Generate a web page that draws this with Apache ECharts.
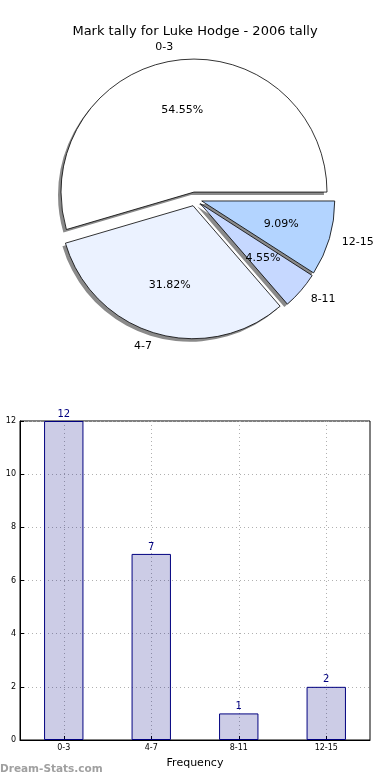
<!DOCTYPE html>
<html>
<head>
<meta charset="utf-8">
<script src="https://cdn.jsdelivr.net/npm/echarts@6/dist/echarts.min.js"></script>
<style>
html,body{margin:0;padding:0;background:#fff;}
#c{width:390px;height:780px;}
</style>
</head>
<body>
<div id="c"></div>
<script>
const titleText = 'Mark tally for Luke Hodge - 2006 tally';
const categories = ['0-3', '4-7', '8-11', '12-15'];
const tallies = [12, 7, 1, 2];
const pieColors = ['#ffffff', '#ebf2ff', '#c6d8ff', '#b3d4ff'];
const yAxisName = 'Distinct Tallies';
const xAxisName = 'Frequency';
const watermark = 'Dream-Stats.com';

const total = tallies.reduce((a, b) => a + b, 0);
const FONT = 'DejaVu Sans';
const R = 133;
const CX = 195, CY = 199;
const OFF = 7;

const chart = echarts.init(document.getElementById('c'), null, {renderer: 'canvas'});

const pieData = categories.map((c, i) => ({
  name: c, value: tallies[i], selected: true,
  itemStyle: {color: pieColors[i]}
}));
const plainData = categories.map((c, i) => ({
  name: c, value: tallies[i], selected: true
}));

const pieBase = {
  type: 'pie', startAngle: 0, clockwise: false,
  selectedMode: 'multiple', selectedOffset: OFF,
  avoidLabelOverlap: false,
  emphasis: {disabled: true}
};

chart.setOption({
  animation: false,
  title: {
    text: titleText, left: 'center', top: 20,
    textStyle: {fontFamily: FONT, fontSize: 13, fontWeight: 'normal', color: '#000'}
  },
  graphic: [{
    type: 'text', left: 0, top: 764,
    style: {text: watermark, fontFamily: FONT, fontSize: 10.5, fontWeight: 'bold', fill: '#a0a0a0'}
  }],
  grid: {
    left: 20, right: 20, top: 421, bottom: 40,
    outerBoundsMode: 'none', containLabel: false,
    show: true, borderColor: '#000', borderWidth: 1, backgroundColor: 'transparent'
  },
  xAxis: {
    type: 'category', data: categories,
    name: xAxisName, nameLocation: 'middle', nameGap: 18, nameMoveOverlap: false,
    nameTextStyle: {fontFamily: FONT, fontSize: 11, color: '#000'},
    axisLine: {show: true, lineStyle: {color: '#000'}},
    axisTick: {show: true, inside: true, length: 4, alignWithLabel: true, lineStyle: {color: '#000'}},
    axisLabel: {fontFamily: FONT, fontSize: 8, color: '#000', margin: 4},
    splitLine: {show: true, alignWithLabel: true, lineStyle: {color: '#b0b0b0', type: [1, 3], width: 1}}
  },
  yAxis: {
    type: 'value', min: 0, max: 12, interval: 2,
    name: yAxisName, nameLocation: 'middle', nameGap: 6, nameRotate: 90,
    nameTextStyle: {fontFamily: FONT, fontSize: 10, color: '#000'},
    axisLine: {show: true, lineStyle: {color: '#000'}},
    axisTick: {show: true, inside: true, length: 4, lineStyle: {color: '#000'}},
    axisLabel: {fontFamily: FONT, fontSize: 8, color: '#000', margin: 4},
    splitLine: {show: true, lineStyle: {color: '#b0b0b0', type: [1, 3], width: 1}}
  },
  series: [
    Object.assign({}, pieBase, {
      center: [CX - 3, CY + 3], radius: R, silent: true, z: 1,
      itemStyle: {color: '#8a8a8a', borderWidth: 0},
      label: {show: false}, labelLine: {show: false},
      data: plainData
    }),
    Object.assign({}, pieBase, {
      center: [CX, CY], radius: R, z: 2,
      itemStyle: {borderColor: '#000', borderWidth: 0.8},
      label: {
        show: true, position: 'outside', distanceToLabelLine: 0,
        formatter: '{b}', fontFamily: FONT, fontSize: 11, color: '#000'
      },
      labelLine: {show: false, length: 13, length2: 0},
      data: pieData
    }),
    Object.assign({}, pieBase, {
      center: [CX, CY], radius: R * 1.2, silent: true, z: 3,
      itemStyle: {color: 'rgba(0,0,0,0)', borderWidth: 0},
      label: {
        show: true, position: 'inside',
        formatter: p => (p.value / total * 100).toFixed(2) + '%',
        fontFamily: FONT, fontSize: 11, color: '#000'
      },
      labelLine: {show: false},
      data: plainData
    }),
    {
      type: 'bar', data: tallies, barWidth: '45%',
      itemStyle: {color: 'rgba(0,0,128,0.2)', borderColor: '#000080', borderWidth: 1},
      label: {show: true, position: 'top', distance: 2, fontFamily: FONT, fontSize: 10, color: '#000080'},
      emphasis: {disabled: true}
    }
  ]
});
</script>
</body>
</html>
